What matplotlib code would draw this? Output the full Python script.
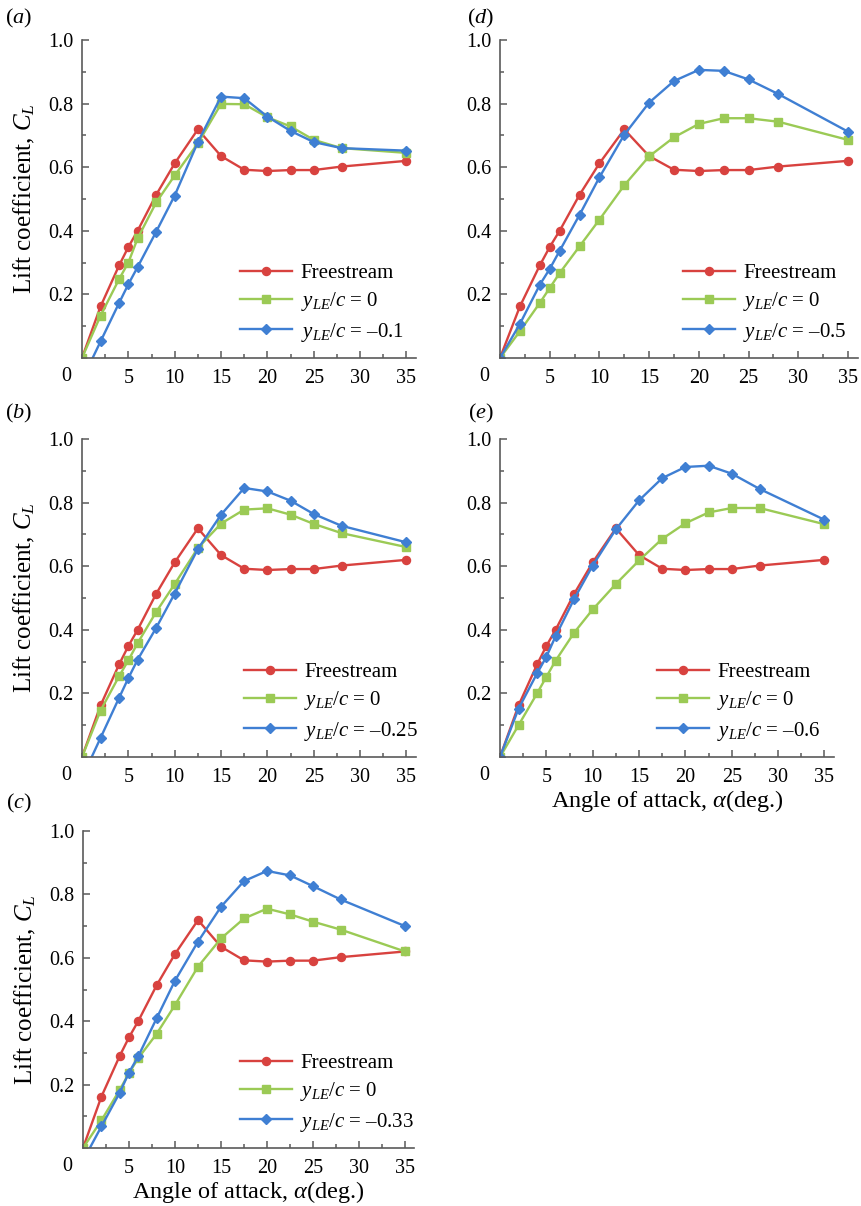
import matplotlib
matplotlib.use("Agg")
import matplotlib.pyplot as plt
from matplotlib.ticker import MultipleLocator, FixedLocator, FormatStrFormatter

plt.rcParams.update({
    "font.family": ["Liberation Serif", "DejaVu Serif"],
    "mathtext.fontset": "custom",
    "mathtext.rm": "Liberation Serif",
    "mathtext.it": "Liberation Serif:italic",
    "mathtext.bf": "Liberation Serif:bold",
})

# Angle of attack (deg.)
alpha = [0, 2, 4, 5, 6, 8, 10, 12.5, 15, 17.5, 20, 22.5, 25, 28, 35]

# Freestream lift coefficient (same reference curve in every panel)
cl_free = [0, 0.162, 0.291, 0.349, 0.400, 0.513, 0.612, 0.719, 0.635,
           0.592, 0.588, 0.591, 0.591, 0.602, 0.620]

# Ground-effect cases: y_LE/c = 0 and the offset case of each panel
cl_a_zero = [0, 0.133, 0.248, 0.300, 0.376, 0.489, 0.574, 0.675, 0.799,
             0.798, 0.757, 0.728, 0.686, 0.660, 0.645]
cl_a_off = [-0.07, 0.052, 0.173, 0.232, 0.286, 0.397, 0.511, 0.679, 0.822,
            0.817, 0.759, 0.714, 0.679, 0.660, 0.652]

cl_b_zero = [0, 0.146, 0.254, 0.304, 0.358, 0.456, 0.544, 0.657, 0.734,
             0.778, 0.782, 0.762, 0.733, 0.704, 0.660]
cl_b_off = [-0.066, 0.060, 0.186, 0.248, 0.306, 0.406, 0.514, 0.654, 0.762,
            0.846, 0.835, 0.806, 0.764, 0.727, 0.675]

cl_c_zero = [0, 0.087, 0.184, 0.236, 0.283, 0.360, 0.451, 0.572, 0.661,
             0.724, 0.755, 0.737, 0.714, 0.689, 0.620]
cl_c_off = [-0.04, 0.068, 0.175, 0.238, 0.289, 0.409, 0.528, 0.651, 0.761,
            0.842, 0.874, 0.860, 0.826, 0.784, 0.700]

cl_d_zero = [0, 0.084, 0.173, 0.220, 0.267, 0.351, 0.435, 0.543, 0.634,
             0.694, 0.736, 0.754, 0.754, 0.743, 0.686]
cl_d_off = [0, 0.107, 0.230, 0.280, 0.337, 0.450, 0.568, 0.702, 0.803,
            0.871, 0.906, 0.903, 0.876, 0.830, 0.712]

cl_e_zero = [0, 0.100, 0.200, 0.252, 0.303, 0.391, 0.464, 0.544, 0.618,
             0.686, 0.735, 0.769, 0.783, 0.783, 0.732]
cl_e_off = [0, 0.152, 0.263, 0.315, 0.380, 0.497, 0.602, 0.716, 0.807,
            0.877, 0.912, 0.916, 0.891, 0.843, 0.746]

offset_labels = ["\u20130.1", "\u20130.25", "\u20130.33", "\u20130.5", "\u20130.6"]
panel_letters = ["a", "b", "c", "d", "e"]

RED = "#D8423F"
GREEN = "#9BCA55"
BLUE = "#3F7FD3"
SPINE = "#5a5a5a"

W, H = 861, 1206
fig = plt.figure(figsize=(W / 100, H / 100), dpi=100)


def px_rect(left, top, right, bottom):
    return [left / W, 1 - bottom / H, (right - left) / W, (bottom - top) / H]


def draw_panel(rect, zero, off, off_label, letter, leg_x, ylabel, xlabel, letter_xy):
    ax = fig.add_axes(rect)
    ax.plot(alpha, cl_free, color=RED, lw=1.7, marker="o", ms=5.8, label="Freestream")
    ax.plot(alpha, zero, color=GREEN, lw=1.7, marker="s", ms=5.2, label=r"$y_{LE}/c$ = 0")
    ax.plot(alpha, off, color=BLUE, lw=1.7, marker="D", ms=5.0,
            label=r"$y_{LE}/c$ = " + off_label)
    ax.set_xlim(0, 36)
    ax.set_ylim(0, 1.0)
    for s in ("top", "right"):
        ax.spines[s].set_visible(False)
    for s in ("left", "bottom"):
        ax.spines[s].set_color(SPINE)
        ax.spines[s].set_linewidth(1.2)
    ax.xaxis.set_major_locator(FixedLocator([5, 10, 15, 20, 25, 30, 35]))
    ax.xaxis.set_minor_locator(MultipleLocator(2.5))
    ax.yaxis.set_major_locator(FixedLocator([0.2, 0.4, 0.6, 0.8, 1.0]))
    ax.yaxis.set_minor_locator(MultipleLocator(0.1))
    ax.yaxis.set_major_formatter(FormatStrFormatter("%.1f"))
    ax.tick_params(which="both", direction="in", color=SPINE, width=1.1,
                   labelsize=14.5)
    ax.tick_params(which="major", length=5)
    ax.tick_params(which="minor", length=3)
    ax.tick_params(axis="x", pad=8)
    ax.tick_params(axis="y", pad=6)
    ax.annotate("0", xy=(0, 0), xycoords="data", xytext=(-11, -13),
                textcoords="offset points", ha="center", va="center",
                fontsize=14.5)
    ax.legend(loc="lower left", bbox_to_anchor=(leg_x, 0.045), frameon=False,
              fontsize=15, handlelength=2.5, handletextpad=0.4,
              labelspacing=0.35, borderpad=0, borderaxespad=0)
    if ylabel:
        ax.set_ylabel(r"Lift coefficient, $C_L$", fontsize=18, labelpad=8)
    if xlabel:
        ax.set_xlabel(r"Angle of attack, $\alpha$(deg.)", fontsize=17.5, labelpad=0.5)
    fig.text(letter_xy[0] / W, 1 - letter_xy[1] / H, "(" + r"$" + letter + r"$" + ")",
             fontsize=16, ha="center", va="center")
    return ax


draw_panel(px_rect(82, 40, 82 + 36 * 9.27, 358), cl_a_zero, cl_a_off, offset_labels[0],
           "a", 0.474, True, False, (19, 18))
draw_panel(px_rect(82, 439, 82 + 36 * 9.27, 757), cl_b_zero, cl_b_off, offset_labels[1],
           "b", 0.485, True, False, (19, 413))
draw_panel(px_rect(83, 831, 83 + 36 * 9.2, 1148), cl_c_zero, cl_c_off, offset_labels[2],
           "c", 0.474, True, True, (19, 803))
draw_panel(px_rect(500, 40, 500 + 36 * 9.94, 358), cl_d_zero, cl_d_off, offset_labels[3],
           "d", 0.511, False, False, (481, 18))
draw_panel(px_rect(500, 439, 500 + 36 * 9.27, 757), cl_e_zero, cl_e_off, offset_labels[4],
           "e", 0.47, False, True, (481, 413))

fig.savefig("out.png", dpi=100)
